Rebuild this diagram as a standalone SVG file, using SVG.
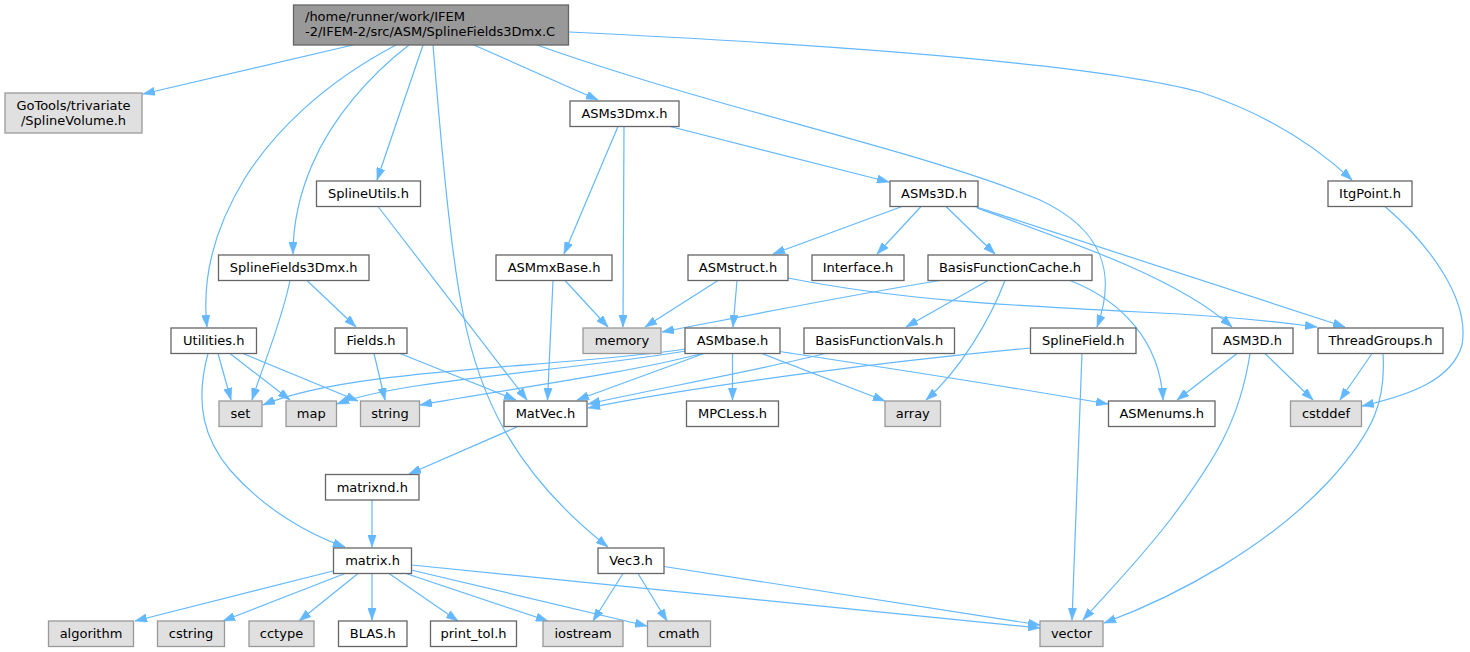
<svg xmlns="http://www.w3.org/2000/svg" width="1470" height="652" viewBox="0 0 1470 652">
<style>
rect{stroke-width:1.3}
.n rect{fill:#ffffff;stroke:#666666}
.g rect{fill:#e0e0e0;stroke:#999999}
.r rect{fill:#999999;stroke:#666666}
text{font-family:"DejaVu Sans","Liberation Sans",sans-serif;font-size:13px;fill:#000;text-anchor:middle}
.r text{text-anchor:start}
#edges path{fill:none;stroke:#63b8ff;stroke-width:1.2;marker-end:url(#a)}
</style>
<defs>
<marker id="a" viewBox="0 0 12 8.5" refX="12" refY="4.25" markerWidth="12" markerHeight="8.5" markerUnits="userSpaceOnUse" orient="auto">
<path d="M0,0 L12,4.25 L0,8.5 z" fill="#63b8ff" stroke="#63b8ff" stroke-width="0.5"/>
</marker>
</defs>
<rect width="1470" height="652" fill="#ffffff"/>
<g id="edges">
<path d="M353,45 L143,94"/>
<path d="M396,45 C320,85 272,135 245,178 C212,232 202,282 207,327"/>
<path d="M409,45 C370,75 332,118 312,165 C297,200 293,228 293,254"/>
<path d="M423,45 L377,180"/>
<path d="M433,45 C440,130 450,250 463,313 C478,390 510,470 608,547"/>
<path d="M474,45 L598,100"/>
<path d="M537,45 C720,110 920,150 1040,200 C1100,228 1118,270 1097,327"/>
<path d="M569,32 C900,48 1110,68 1200,92 C1270,115 1320,150 1352,180"/>
<path d="M618,126.5 L564,254"/>
<path d="M624,126.5 L623,327"/>
<path d="M670,126.5 L889,182"/>
<path d="M902,206.5 L773,254"/>
<path d="M921,206.5 L877,254"/>
<path d="M946,206.5 L995,254"/>
<path d="M975,206.5 L1345,327"/>
<path d="M977,208 C1080,245 1180,280 1232,327"/>
<path d="M718,280.5 L645,327"/>
<path d="M737,280.5 L733,327"/>
<path d="M788,278 C900,300 1000,305 1140,312 C1230,316 1280,322 1317,327"/>
<path d="M940,280.5 C850,295 750,315 662,332"/>
<path d="M988,280.5 L906,327"/>
<path d="M1005,280.5 C990,320 960,370 926,400"/>
<path d="M1070,280.5 C1120,300 1160,340 1163,400"/>
<path d="M378,206.5 L527,400"/>
<path d="M290,280.5 C282,320 265,360 252,400"/>
<path d="M307,280.5 L356,327"/>
<path d="M565,280.5 L608,327"/>
<path d="M553,280.5 L547.5,400"/>
<path d="M218,353.5 L231,400"/>
<path d="M230,353.5 L290,400"/>
<path d="M243,353.5 L358,401"/>
<path d="M208,353.5 C194,405 205,440 230,470 C265,510 310,535 345,547"/>
<path d="M374,353.5 L385,400"/>
<path d="M400,353.5 L516,400"/>
<path d="M686,349 C560,368 350,368 263,405"/>
<path d="M686,351 C560,372 400,380 337,404"/>
<path d="M702,353.5 C620,375 500,390 420,405"/>
<path d="M704,353.5 L577,400"/>
<path d="M732.5,353.5 L732.5,400"/>
<path d="M762,353.5 L885,401"/>
<path d="M780,351.5 C900,370 1000,385 1108,404"/>
<path d="M825,353.5 C760,370 650,390 588,404"/>
<path d="M1030,348 C900,360 700,385 588,408"/>
<path d="M1082,353.5 L1072,620"/>
<path d="M1237,353.5 L1177,400"/>
<path d="M1250,353.5 C1240,420 1215,460 1170,520 C1135,565 1105,595 1083,620"/>
<path d="M1265,353.5 L1313,400"/>
<path d="M1372,353.5 L1340,400"/>
<path d="M1383,353.5 C1386,400 1375,430 1330,480 C1270,545 1180,595 1104,623"/>
<path d="M1385,206.5 C1430,245 1470,300 1462,345 C1452,380 1410,395 1362,406"/>
<path d="M518,426.5 L409,474"/>
<path d="M372,500 L372,547"/>
<path d="M333,571 L135,621"/>
<path d="M345,573.5 L223,621"/>
<path d="M358,573.5 L299,621"/>
<path d="M372,573.5 L372,620"/>
<path d="M389,573.5 L458,621"/>
<path d="M406,573.5 L548,621"/>
<path d="M411,570 L647,626"/>
<path d="M411.5,565 L1040,628"/>
<path d="M623,573.5 L593,621"/>
<path d="M638,573.5 L667,621"/>
<path d="M664,566.5 L1040,625"/>
</g>
<g id="root" class="r"><rect x="293.5" y="5" width="275" height="40"/><text x="305" y="20.5">/home/runner/work/IFEM</text><text x="305" y="35.5">-2/IFEM-2/src/ASM/SplineFields3Dmx.C</text></g>
<g id="gotools" class="g"><rect x="5" y="93" width="137" height="40"/><text x="73.5" y="109.5">GoTools/trivariate</text><text x="73.5" y="124.5">/SplineVolume.h</text></g>
<g id="asms3dmx" class="n"><rect x="570" y="101" width="109" height="25.5"/><text x="624.5" y="118.3">ASMs3Dmx.h</text></g>
<g id="asms3d" class="n"><rect x="890" y="181" width="88" height="25.5"/><text x="934" y="198.3">ASMs3D.h</text></g>
<g id="itgpoint" class="n"><rect x="1328" y="181" width="84" height="25.5"/><text x="1370" y="198.3">ItgPoint.h</text></g>
<g id="splineutils" class="n"><rect x="316.5" y="181" width="104" height="25.5"/><text x="368.5" y="198.3">SplineUtils.h</text></g>
<g id="splinefields3dmx" class="n"><rect x="218.5" y="255" width="150.5" height="25.5"/><text x="293.75" y="272.3">SplineFields3Dmx.h</text></g>
<g id="asmmxbase" class="n"><rect x="496" y="255" width="116" height="25.5"/><text x="554" y="272.3">ASMmxBase.h</text></g>
<g id="asmstruct" class="n"><rect x="688" y="255" width="100" height="25.5"/><text x="738" y="272.3">ASMstruct.h</text></g>
<g id="interface" class="n"><rect x="812" y="255" width="92" height="25.5"/><text x="858" y="272.3">Interface.h</text></g>
<g id="bfcache" class="n"><rect x="928" y="255" width="164" height="25.5"/><text x="1010" y="272.3">BasisFunctionCache.h</text></g>
<g id="utilities" class="n"><rect x="171" y="328" width="85.5" height="25.5"/><text x="213.75" y="345.3">Utilities.h</text></g>
<g id="fields" class="n"><rect x="335" y="328" width="72" height="25.5"/><text x="371" y="345.3">Fields.h</text></g>
<g id="memory" class="g"><rect x="583" y="328" width="78" height="25.5"/><text x="622" y="345.3">memory</text></g>
<g id="asmbase" class="n"><rect x="685" y="328" width="95" height="25.5"/><text x="732.5" y="345.3">ASMbase.h</text></g>
<g id="bfvals" class="n"><rect x="804" y="328" width="150.5" height="25.5"/><text x="879.25" y="345.3">BasisFunctionVals.h</text></g>
<g id="splinefield" class="n"><rect x="1030.5" y="328" width="105.5" height="25.5"/><text x="1083.25" y="345.3">SplineField.h</text></g>
<g id="asm3d" class="n"><rect x="1212" y="328" width="81" height="25.5"/><text x="1252.5" y="345.3">ASM3D.h</text></g>
<g id="threadgroups" class="n"><rect x="1318" y="328" width="125" height="25.5"/><text x="1380.5" y="345.3">ThreadGroups.h</text></g>
<g id="set" class="g"><rect x="219" y="401" width="43" height="25.5"/><text x="240.5" y="418.3">set</text></g>
<g id="map" class="g"><rect x="286" y="401" width="50.5" height="25.5"/><text x="311.25" y="418.3">map</text></g>
<g id="string" class="g"><rect x="360.5" y="401" width="59" height="25.5"/><text x="390" y="418.3">string</text></g>
<g id="matvec" class="n"><rect x="504" y="401" width="83" height="25.5"/><text x="545.5" y="418.3">MatVec.h</text></g>
<g id="mpcless" class="n"><rect x="686.5" y="401" width="92" height="25.5"/><text x="732.5" y="418.3">MPCLess.h</text></g>
<g id="array" class="g"><rect x="885" y="401" width="55.5" height="25.5"/><text x="912.75" y="418.3">array</text></g>
<g id="asmenums" class="n"><rect x="1108.5" y="401" width="106.5" height="25.5"/><text x="1161.75" y="418.3">ASMenums.h</text></g>
<g id="cstddef" class="g"><rect x="1290.5" y="401" width="71" height="25.5"/><text x="1326" y="418.3">cstddef</text></g>
<g id="matrixnd" class="n"><rect x="325.5" y="474.5" width="93.5" height="25.5"/><text x="372.25" y="491.8">matrixnd.h</text></g>
<g id="matrix" class="n"><rect x="333.5" y="548" width="78" height="25.5"/><text x="372.5" y="565.3">matrix.h</text></g>
<g id="vec3" class="n"><rect x="598" y="548" width="66" height="25.5"/><text x="631" y="565.3">Vec3.h</text></g>
<g id="algorithm" class="g"><rect x="48.5" y="621" width="85" height="25.5"/><text x="91" y="638.3">algorithm</text></g>
<g id="cstring" class="g"><rect x="157.5" y="621" width="67" height="25.5"/><text x="191" y="638.3">cstring</text></g>
<g id="cctype" class="g"><rect x="249" y="621" width="65" height="25.5"/><text x="281.5" y="638.3">cctype</text></g>
<g id="blas" class="n"><rect x="338.5" y="621" width="68.5" height="25.5"/><text x="372.75" y="638.3">BLAS.h</text></g>
<g id="printtol" class="n"><rect x="430.5" y="621" width="86" height="25.5"/><text x="473.5" y="638.3">print_tol.h</text></g>
<g id="iostream" class="g"><rect x="543" y="621" width="80" height="25.5"/><text x="583" y="638.3">iostream</text></g>
<g id="cmath" class="g"><rect x="647.5" y="621" width="63" height="25.5"/><text x="679" y="638.3">cmath</text></g>
<g id="vector" class="g"><rect x="1040" y="621" width="63" height="25.5"/><text x="1071.5" y="638.3">vector</text></g>
</svg>
